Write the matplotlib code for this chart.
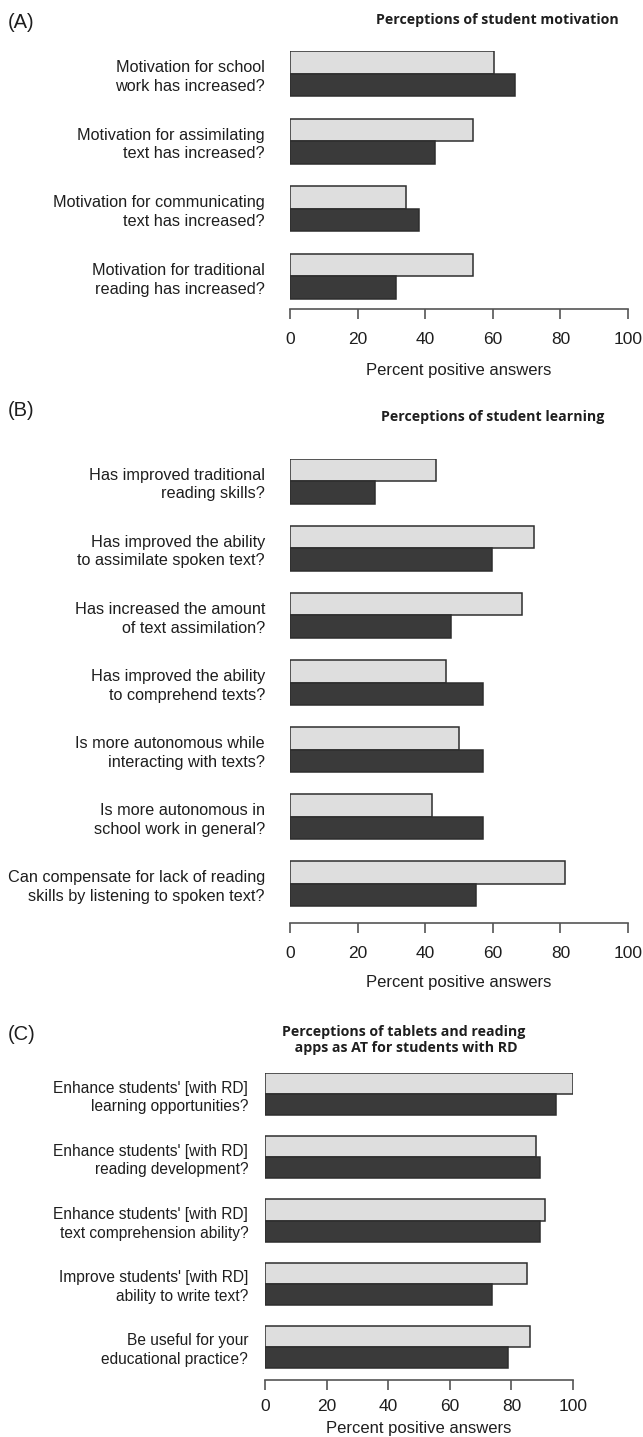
import numpy as np
import matplotlib.pyplot as plt

plt.rcParams['font.family'] = ['Liberation Sans', 'DejaVu Sans']

# panel A: student motivation
labels_a = ["Motivation for school\nwork has increased?",
            "Motivation for assimilating\ntext has increased?",
            "Motivation for communicating\ntext has increased?",
            "Motivation for traditional\nreading has increased?"]
light_a = [60.5, 54.0, 34.2, 54.0]
dark_a = [66.6, 42.9, 38.2, 31.4]

# panel B: student learning
labels_b = ["Has improved traditional\nreading skills?",
            "Has improved the ability\nto assimilate spoken text?",
            "Has increased the amount\nof text assimilation?",
            "Has improved the ability\nto comprehend texts?",
            "Is more autonomous while\ninteracting with texts?",
            "Is more autonomous in\nschool work in general?",
            "Can compensate for lack of reading\nskills by listening to spoken text?"]
light_b = [43.3, 72.2, 68.5, 46.1, 50.0, 42.1, 81.5]
dark_b = [25.1, 59.9, 47.7, 57.2, 57.2, 57.2, 55.1]

# panel C: tablets and reading apps as AT
labels_c = ["Enhance students' [with RD]\nlearning opportunities?",
            "Enhance students' [with RD]\nreading development?",
            "Enhance students' [with RD]\ntext comprehension ability?",
            "Improve students' [with RD]\nability to write text?",
            "Be useful for your\neducational practice?"]
light_c = [100.0, 88.1, 90.9, 85.0, 85.9]
dark_c = [94.6, 89.4, 89.4, 73.7, 78.9]

W, H = 643, 1437
fig = plt.figure(figsize=(W / 100, H / 100), dpi=100)

LIGHT = '#dedede'
DARK = '#3a3a3a'
EDGE = '#2e2e2e'
TXT = '#1e1e1e'


def panel(x0, x1, ytop, ybar_bottom, yaxis, labels, light, dark, lab_pad, lab_size, tick_pad):
    n = len(labels)
    units = 3 * n - 1
    unit_px = (ybar_bottom - ytop) / units
    bottom_lim = (yaxis - ytop) / unit_px
    ax = fig.add_axes([x0 / W, 1 - yaxis / H, (x1 - x0) / W, (yaxis - ytop) / H])
    pos = np.arange(n) * 3
    ax.barh(pos + 0.5, light, height=1, color=LIGHT, edgecolor=EDGE, linewidth=1.1)
    ax.barh(pos + 1.5, dark, height=1, color=DARK, edgecolor=EDGE, linewidth=1.1)
    ax.set_xlim(0, 100)
    ax.set_ylim(bottom_lim, 0)
    for s in ['top', 'right', 'left']:
        ax.spines[s].set_visible(False)
    ax.spines['bottom'].set_color('#555555')
    ax.spines['bottom'].set_linewidth(1.2)
    ax.set_xticks([0, 20, 40, 60, 80, 100])
    ax.tick_params(axis='x', length=7, width=1.2, color='#555555', pad=tick_pad,
                   labelsize=12.5, labelcolor=TXT)
    ax.set_yticks(pos + 1)
    ax.set_yticklabels(labels, fontsize=lab_size, color=TXT, linespacing=1.3)
    ax.tick_params(axis='y', length=0, pad=lab_pad)
    ax.patch.set_visible(False)
    return ax


panel(290, 628, 51, 299, 309, labels_a, light_a, dark_a, 18, 11.7, 9.5)
panel(290, 628, 459, 906, 923, labels_b, light_b, dark_b, 18, 11.7, 9.5)
panel(265, 573, 1073, 1368, 1380, labels_c, light_c, dark_c, 12, 11.2, 7)


def ftext(x, y, s, **kw):
    fig.text(x / W, 1 - y / H, s, va='center', color=TXT, **kw)


ftext(8, 22, "(A)", fontsize=14.5)
ftext(8, 410, "(B)", fontsize=14.5)
ftext(8, 1035, "(C)", fontsize=14.5)

tfont = dict(fontsize=10.2, fontweight='bold', family=['Open Sans', 'DejaVu Sans'], ha='center')
ftext(497, 20, "Perceptions of student motivation", **tfont)
ftext(493, 417, "Perceptions of student learning", **tfont)
ftext(404, 1040, "Perceptions of tablets and reading\n apps as AT for students with RD",
      linespacing=1.1, **tfont)

ftext(459, 370, "Percent positive answers", fontsize=12, ha='center')
ftext(459, 983, "Percent positive answers", fontsize=12, ha='center')
ftext(419, 1428, "Percent positive answers", fontsize=12, ha='center')

fig.savefig('out.png', dpi=100)
